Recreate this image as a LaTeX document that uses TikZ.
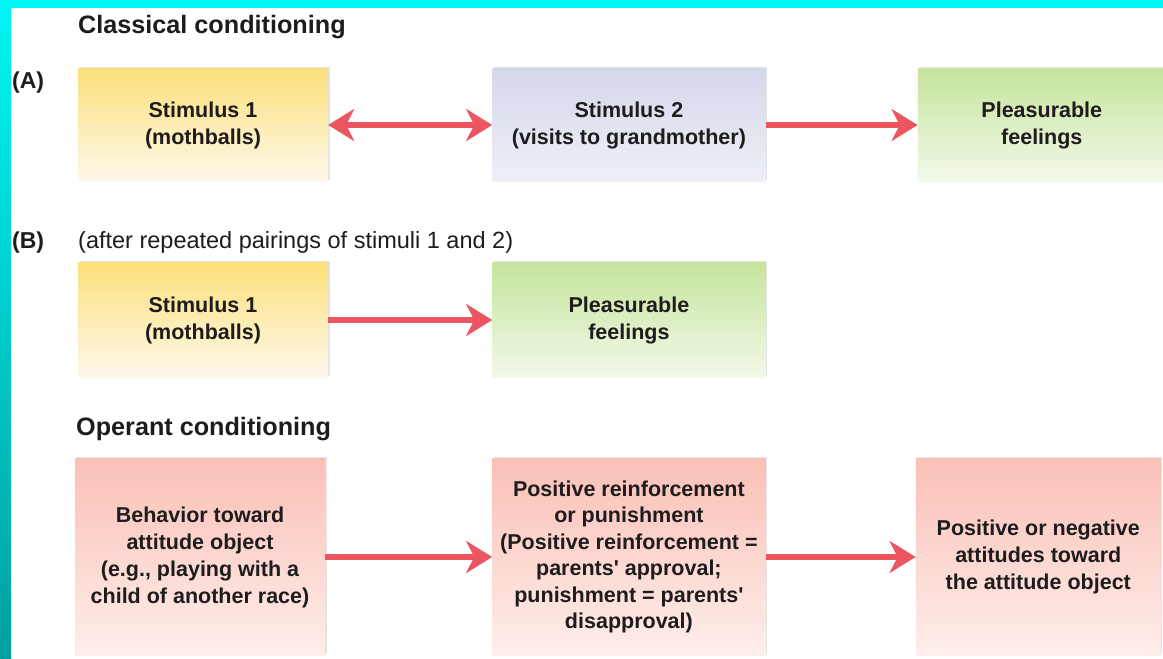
\documentclass[tikz,border=0pt]{standalone}
\usepackage{fontspec}
\setmainfont{Liberation Sans}
\usepackage{xcolor}
\usetikzlibrary{arrows.meta,positioning,shadows}
\definecolor{arrowred}{RGB}{236,86,96}
\definecolor{inktext}{RGB}{30,28,28}
\definecolor{yellowtop}{RGB}{252,224,122}
\definecolor{yellowbot}{RGB}{254,248,236}
\definecolor{bluetop}{RGB}{212,216,234}
\definecolor{bluebot}{RGB}{238,239,246}
\definecolor{greentop}{RGB}{198,228,156}
\definecolor{greenbot}{RGB}{242,249,234}
\definecolor{pinktop}{RGB}{250,192,182}
\definecolor{pinkbot}{RGB}{254,238,235}
\definecolor{bandcyan}{RGB}{0,245,245}
\definecolor{bandmid}{RGB}{0,232,232}
\definecolor{bandteal}{RGB}{0,160,160}
\tikzset{
  condbox/.style={
    inner sep=0pt,
    align=center,
    text=inktext,
    font=\fontsize{21.5}{27}\selectfont\bfseries,
    minimum height=113pt,
    drop shadow={opacity=0.22, shadow xshift=1.5pt, shadow yshift=1.5pt}
  },
  yellowbox/.style={condbox, top color=yellowtop, bottom color=yellowbot, minimum width=250pt},
  bluebox/.style={condbox, top color=bluetop, bottom color=bluebot, minimum width=273pt},
  greenbox/.style={condbox, top color=greentop, bottom color=greenbot},
  pinkbox/.style={condbox, top color=pinktop, bottom color=pinkbot, minimum height=197pt},
  headlabel/.style={
    anchor=base west,
    inner sep=0pt,
    text=inktext,
    font=\fontsize{25.2}{30}\selectfont\bfseries
  },
  notelabel/.style={
    anchor=base west,
    inner sep=0pt,
    text=inktext,
    font=\fontsize{23.5}{28}\selectfont
  },
  condarrow/.style={
    -{Stealth[length=26pt,width=32pt,inset=8pt]},
    line width=6pt,
    draw=arrowred
  },
  condboth/.style={
    {Stealth[length=26pt,width=32pt,inset=8pt]}-{Stealth[length=26pt,width=32pt,inset=8pt]},
    line width=6pt,
    draw=arrowred
  }
}

\begin{document}
\begin{tikzpicture}[x=1pt, y=-1pt]
    \useasboundingbox (0,0) rectangle (1163,659);
    \fill[white] (0,0) rectangle (1163,659);
    \shade[top color=bandcyan, middle color=bandmid, bottom color=bandteal] (0,0) rectangle (11,659);
    \fill[bandcyan] (0,0) rectangle (1163,8);

    % classical conditioning, row A
    \node[headlabel] (classical) at (78,33) {Classical conditioning};
    \node[headlabel, font=\fontsize{23}{28}\selectfont\bfseries] (rowa) at (12,88) {(A)};
    \node[yellowbox] (stima) at (203,125) {Stimulus 1\\(mothballs)};
    \node[bluebox, right=164pt of stima] (grand) {Stimulus 2\\(visits to grandmother)};
    \node[greenbox, minimum width=248pt, right=152pt of grand] (pleasa) {Pleasurable\\feelings};

    % row B
    \node[headlabel, font=\fontsize{23}{28}\selectfont\bfseries] (rowb) at (12,248) {(B)};
    \node[notelabel] (after) at (78,248) {(after repeated pairings of stimuli 1 and 2)};
    \node[yellowbox, minimum height=115pt] (stimb) at (203,320) {Stimulus 1\\(mothballs)};
    \node[greenbox, minimum width=273pt, minimum height=115pt, right=164pt of stimb] (pleasb) {Pleasurable\\feelings};

    % operant conditioning
    \node[headlabel] (operant) at (76,435) {Operant conditioning};
    \node[pinkbox, minimum width=250pt] (behav) at (200,557) {Behavior toward\\attitude object\\(e.g., playing with a\\child of another race)};
    \node[pinkbox, minimum width=273pt, font=\fontsize{21.5}{26.5}\selectfont\bfseries, right=167pt of behav] (reinf) {Positive reinforcement\\or punishment\\(Positive reinforcement =\\parents\textquotesingle{} approval;\\punishment = parents\textquotesingle\\disapproval)};
    \node[pinkbox, minimum width=245pt, right=150pt of reinf] (attit) {Positive or negative\\attitudes toward\\the attitude object};

    \draw[condboth] (stima) -- (grand);
    \draw[condarrow] (grand) -- (pleasa);
    \draw[condarrow] (stimb) -- (pleasb);
    \draw[condarrow] (behav) -- (reinf);
    \draw[condarrow] (reinf) -- (attit);
\end{tikzpicture}
\end{document}
